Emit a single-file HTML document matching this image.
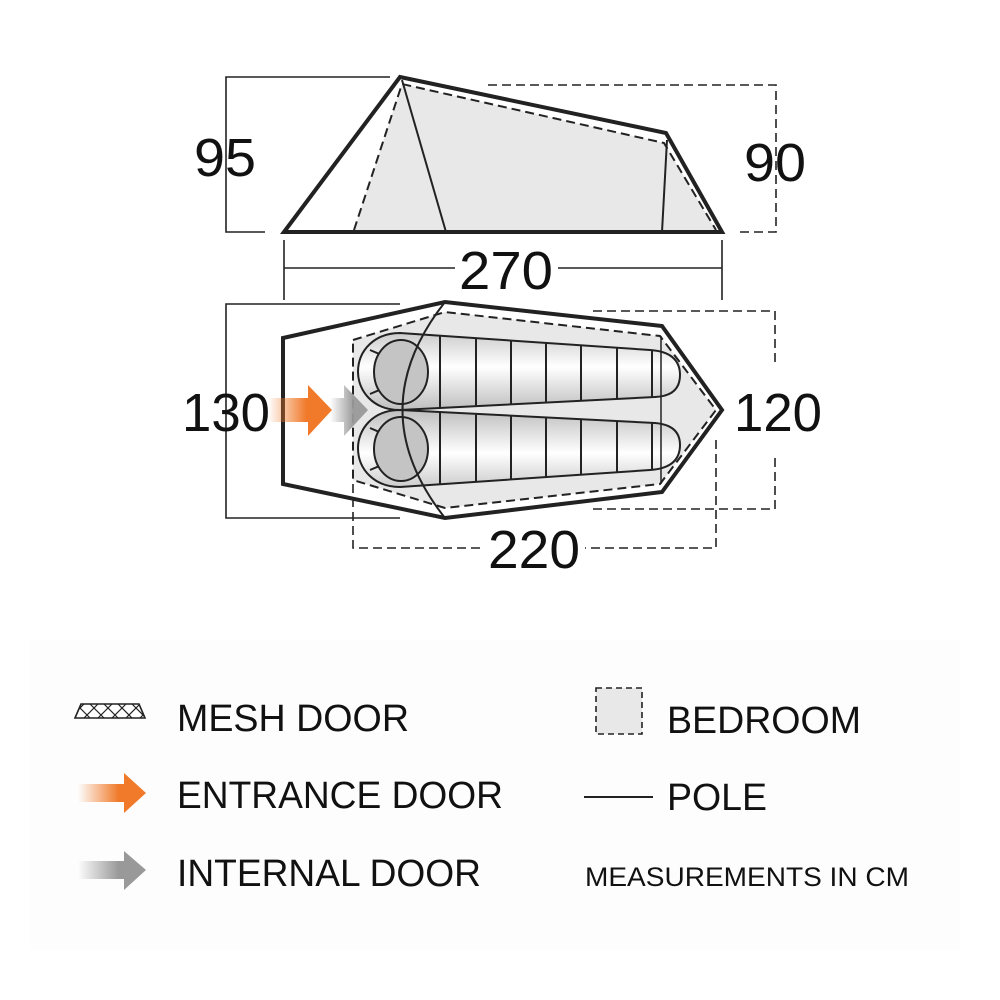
<!DOCTYPE html>
<html><head><meta charset="utf-8"><style>
html,body{margin:0;padding:0;background:#fff}
svg{display:block}
text{font-family:"Liberation Sans",sans-serif;fill:#111}
</style></head><body>
<svg width="1000" height="1000" viewBox="0 0 1000 1000" xmlns="http://www.w3.org/2000/svg">
<defs>
<linearGradient id="bagT" x1="0" y1="0" x2="0" y2="1">
<stop offset="0" stop-color="#c8c8c8"/><stop offset="0.45" stop-color="#fff"/><stop offset="1" stop-color="#bbb"/>
</linearGradient>
<linearGradient id="bagB" x1="0" y1="0" x2="0" y2="1">
<stop offset="0" stop-color="#bbb"/><stop offset="0.55" stop-color="#fff"/><stop offset="1" stop-color="#c8c8c8"/>
</linearGradient>
<linearGradient id="org" x1="0" y1="0" x2="1" y2="0">
<stop offset="0" stop-color="#f07a2a" stop-opacity="0"/><stop offset="0.6" stop-color="#f07a2a"/><stop offset="1" stop-color="#f07a2a"/>
</linearGradient>
<linearGradient id="gry" x1="0" y1="0" x2="1" y2="0">
<stop offset="0" stop-color="#999" stop-opacity="0"/><stop offset="0.6" stop-color="#999"/><stop offset="1" stop-color="#999"/>
</linearGradient>
<clipPath id="cT"><path d="M400,333 L650,350 Q680,352 680,375 Q680,396 655,397 L400,410 C372,410 358,390 358,372 C358,350 375,333 400,333 Z"/></clipPath>
<clipPath id="cB"><path d="M400,410 L655,423 Q680,425 680,445 Q680,468 650,470 L400,487 C375,487 358,470 358,448 C358,430 372,410 400,410 Z"/></clipPath>
<clipPath id="mesh"><polygon points="75,718 81,704 139,704 145,718"/></clipPath>
</defs>
<rect x="30" y="640" width="930" height="310" fill="#fdfdfd"/>

<!-- side view -->
<polygon points="402,84 664,143 716,230 354,230" fill="#e8e8e8"/>
<polyline points="354,230 402,84 664,143 716,230" fill="none" stroke="#222" stroke-width="2" stroke-dasharray="9,5"/>
<line x1="402" y1="80" x2="446" y2="232" stroke="#222" stroke-width="2"/>
<line x1="667" y1="140" x2="662" y2="232" stroke="#222" stroke-width="2"/>
<polygon points="284,232 400,77 666,133 722,232" fill="none" stroke="#222" stroke-width="4"/>
<polyline points="390,77 226,77 226,232 265,232" fill="none" stroke="#222" stroke-width="1.6"/>
<text x="225" y="176" font-size="54" text-anchor="middle" textLength="62" lengthAdjust="spacingAndGlyphs">95</text>
<polyline points="488,85 776,85 776,232 735,232" fill="none" stroke="#222" stroke-width="1.6" stroke-dasharray="9,5"/>
<text x="775" y="181" font-size="54" text-anchor="middle" textLength="62" lengthAdjust="spacingAndGlyphs">90</text>
<line x1="284" y1="240" x2="284" y2="300" stroke="#222" stroke-width="1.6"/>
<line x1="722" y1="240" x2="722" y2="300" stroke="#222" stroke-width="1.6"/>
<line x1="284" y1="268" x2="455" y2="268" stroke="#222" stroke-width="1.6"/>
<line x1="558" y1="268" x2="722" y2="268" stroke="#222" stroke-width="1.6"/>
<text x="506" y="289" font-size="54" text-anchor="middle" textLength="94" lengthAdjust="spacingAndGlyphs">270</text>

<!-- floor plan -->
<polyline points="400,304 226,304 226,518 400,518" fill="none" stroke="#222" stroke-width="1.6"/>
<text x="226" y="431" font-size="54" text-anchor="middle" textLength="88" lengthAdjust="spacingAndGlyphs">130</text>
<polyline points="593,311 775,311 775,362" fill="none" stroke="#222" stroke-width="1.6" stroke-dasharray="9,5"/>
<polyline points="593,509 775,509 775,455" fill="none" stroke="#222" stroke-width="1.6" stroke-dasharray="9,5"/>
<text x="778" y="431" font-size="54" text-anchor="middle" textLength="88" lengthAdjust="spacingAndGlyphs">120</text>
<polygon points="353,340 445,312 660,336 716,410 660,484 445,508 353,480" fill="#e8e8e8"/>
<polygon points="353,340 445,312 660,336 716,410 660,484 445,508 353,480" fill="none" stroke="#222" stroke-width="2" stroke-dasharray="9,5"/>
<polygon points="283,338 445,302 662,326 722,410 662,492 445,518 283,484" fill="none" stroke="#222" stroke-width="4"/>
<polyline points="353,484 353,548 480,548" fill="none" stroke="#222" stroke-width="1.6" stroke-dasharray="9,5"/>
<polyline points="716,440 716,548 585,548" fill="none" stroke="#222" stroke-width="1.6" stroke-dasharray="9,5"/>
<text x="534" y="568" font-size="54" text-anchor="middle" textLength="92" lengthAdjust="spacingAndGlyphs">220</text>

<!-- bags -->
<g clip-path="url(#cT)">
<rect x="355" y="330" width="330" height="82" fill="url(#bagT)"/>
<g stroke="#222" stroke-width="2">
<line x1="440" y1="320" x2="440" y2="420"/><line x1="476" y1="320" x2="476" y2="420"/><line x1="511" y1="320" x2="511" y2="420"/><line x1="546" y1="320" x2="546" y2="420"/><line x1="581" y1="320" x2="581" y2="420"/><line x1="617" y1="320" x2="617" y2="420"/><line x1="652" y1="320" x2="652" y2="420"/>
<line x1="370" y1="350" x2="384" y2="356"/><line x1="370" y1="394" x2="384" y2="388"/>
</g>
<ellipse cx="401" cy="372" rx="27" ry="32" fill="#c4c4c4" stroke="#222" stroke-width="2"/>
</g>
<g clip-path="url(#cB)">
<rect x="355" y="408" width="330" height="82" fill="url(#bagB)"/>
<g stroke="#222" stroke-width="2">
<line x1="440" y1="400" x2="440" y2="500"/><line x1="476" y1="400" x2="476" y2="500"/><line x1="511" y1="400" x2="511" y2="500"/><line x1="546" y1="400" x2="546" y2="500"/><line x1="581" y1="400" x2="581" y2="500"/><line x1="617" y1="400" x2="617" y2="500"/><line x1="652" y1="400" x2="652" y2="500"/>
<line x1="370" y1="428" x2="384" y2="434"/><line x1="370" y1="470" x2="384" y2="464"/>
</g>
<ellipse cx="401" cy="449" rx="27" ry="32" fill="#c4c4c4" stroke="#222" stroke-width="2"/>
</g>
<path d="M400,333 L650,350 Q680,352 680,375 Q680,396 655,397 L400,410 C372,410 358,390 358,372 C358,350 375,333 400,333 Z" fill="none" stroke="#222" stroke-width="2"/>
<path d="M400,410 L655,423 Q680,425 680,445 Q680,468 650,470 L400,487 C375,487 358,470 358,448 C358,430 372,410 400,410 Z" fill="none" stroke="#222" stroke-width="2"/>
<path d="M445,302 Q360,410 445,518" fill="none" stroke="#222" stroke-width="2"/>
<line x1="661" y1="336" x2="661" y2="484" stroke="#222" stroke-width="1.5"/>

<!-- arrows -->
<polygon points="268,398 308,398 308,385 332,410 308,436 308,422 268,422" fill="url(#org)"/>
<polygon points="330,398 344,398 344,385 368,410 344,436 344,422 330,422" fill="url(#gry)" opacity="0.95"/>

<!-- legend -->
<g clip-path="url(#mesh)">
<polygon points="75,718 81,704 139,704 145,718" fill="#fff"/>
<path d="M70,718 L84,704 M84,718 L98,704 M98,718 L112,704 M112,718 L126,704 M126,718 L140,704 M140,718 L154,704 M76,704 L90,718 M90,704 L104,718 M104,704 L118,718 M118,704 L132,718 M132,704 L146,718" fill="none" stroke="#222" stroke-width="1.2"/>
</g>
<polygon points="75,718 81,704 139,704 145,718" fill="none" stroke="#222" stroke-width="1.6"/>
<text x="177" y="731" font-size="38" textLength="232" lengthAdjust="spacingAndGlyphs">MESH DOOR</text>
<polygon points="78,784 124,784 124,773 146,793 124,813 124,802 78,802" fill="url(#org)"/>
<text x="177" y="808" font-size="38" textLength="326" lengthAdjust="spacingAndGlyphs">ENTRANCE DOOR</text>
<polygon points="78,861 124,861 124,851 146,870 124,890 124,879 78,879" fill="url(#gry)"/>
<text x="177" y="886" font-size="38" textLength="304" lengthAdjust="spacingAndGlyphs">INTERNAL DOOR</text>
<rect x="596" y="688" width="46" height="46" fill="#e8e8e8" stroke="#222" stroke-width="1.6" stroke-dasharray="6,4"/>
<text x="667" y="733" font-size="38" textLength="194" lengthAdjust="spacingAndGlyphs">BEDROOM</text>
<line x1="584" y1="797" x2="653" y2="797" stroke="#222" stroke-width="2"/>
<text x="667" y="810" font-size="38" textLength="100" lengthAdjust="spacingAndGlyphs">POLE</text>
<text x="585" y="886" font-size="27" textLength="324" lengthAdjust="spacingAndGlyphs">MEASUREMENTS IN CM</text>
</svg>
</body></html>
